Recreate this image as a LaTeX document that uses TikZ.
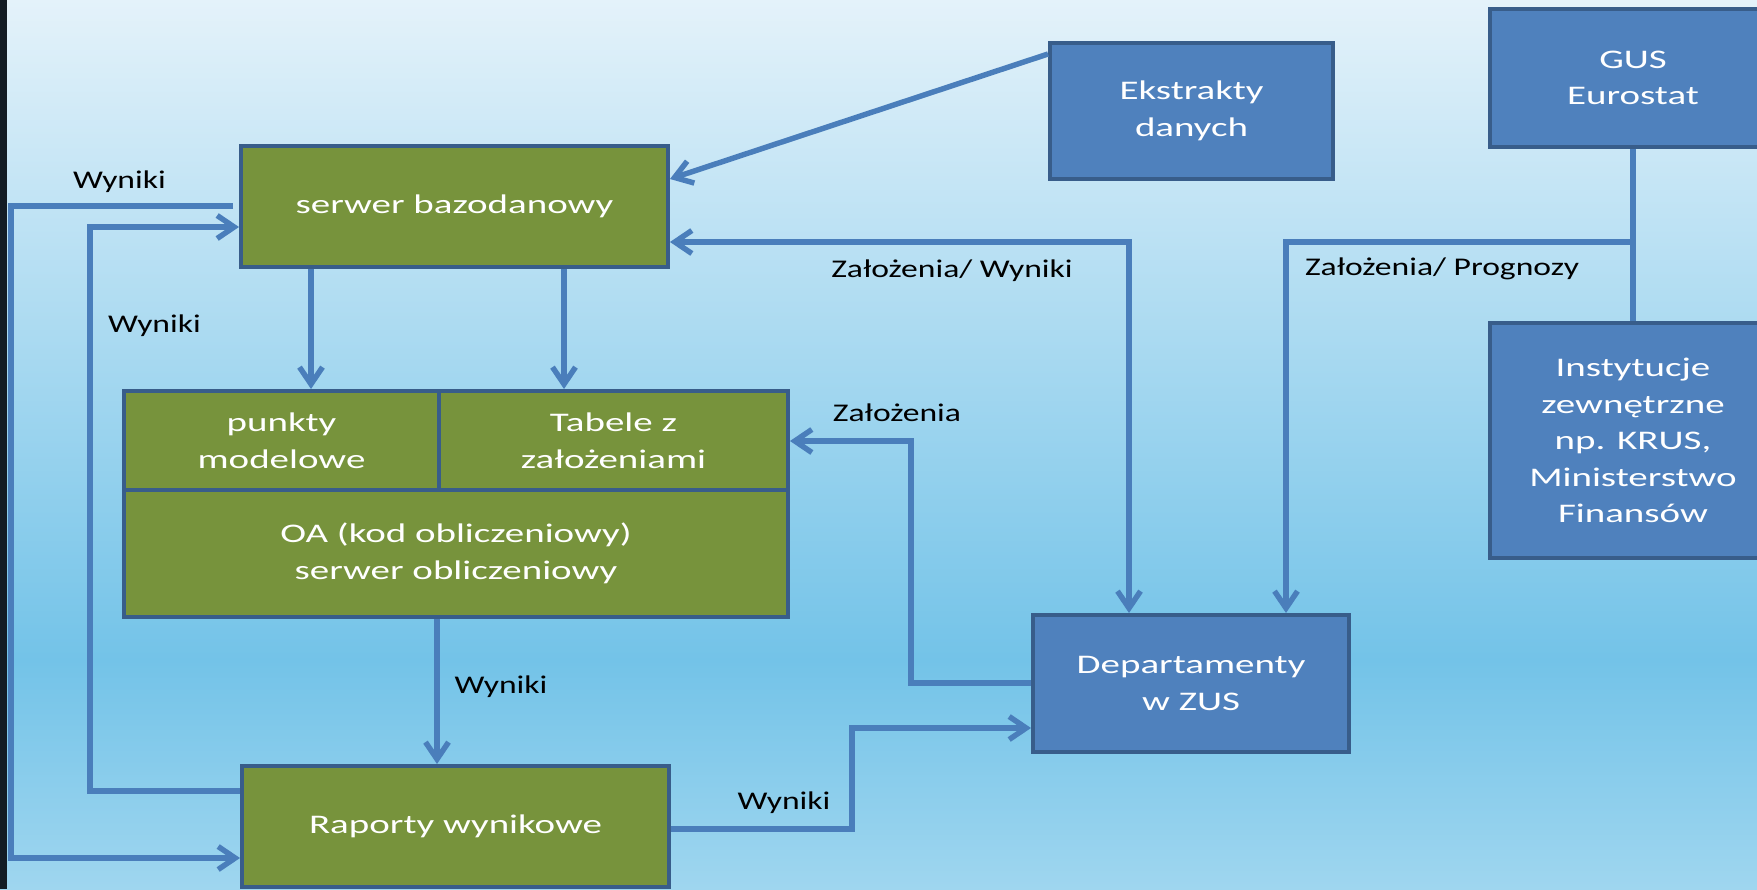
\documentclass[tikz,border=0pt]{standalone}
\usepackage{fontspec}
\usetikzlibrary{arrows.meta,calc}
\newfontfamily\boxf[FakeStretch=1.45]{Carlito}
\newfontfamily\labf[FakeStretch=1.32]{Carlito}
\definecolor{bgtop}{HTML}{E4F2FA}
\definecolor{bgmid}{HTML}{73C3E8}
\definecolor{bgbot}{HTML}{9FD6EF}
\definecolor{lineblue}{HTML}{4A7EBB}
\definecolor{boxblue}{HTML}{4F81BD}
\definecolor{boxborder}{HTML}{385D8A}
\definecolor{boxgreen}{HTML}{77933C}
\definecolor{darkband}{HTML}{131C24}
\tikzset{
  bx/.style={draw=boxborder, line width=2.3pt, inner sep=0pt, align=center, text=white,
    font=\boxf\fontsize{15.3}{20.8}\selectfont},
  bblue/.style={bx, fill=boxblue},
  bgreen/.style={bx, fill=boxgreen},
  conn/.style={draw=lineblue, line width=3.1pt},
  lab/.style={inner sep=0pt, text=black, font=\labf\fontsize{14.5}{16}\selectfont, anchor=base},
  >={Straight Barb[length=3.4mm,width=4.6mm]}
}
\begin{document}
\begin{tikzpicture}[x=0.02cm,y=-0.02cm]
\useasboundingbox (0,0) rectangle (1757,889);
\shade[top color=bgtop, bottom color=bgmid] (0,0) rectangle (1757,660);
\shade[top color=bgmid, bottom color=bgbot] (0,659.5) rectangle (1757,889);
\fill[darkband] (0,0) rectangle (7,889);

% boxes
\node[bgreen, minimum width=8.54cm, minimum height=2.42cm] (serwer) at (454.5,206.5) {serwer bazodanowy};
\node[bblue, minimum width=5.66cm, minimum height=2.72cm] (ekstr) at (1191.5,111) {Ekstrakty\\danych};
\node[bblue, minimum width=5.72cm, minimum height=2.76cm] (gus) at (1633,78) {GUS\\Eurostat};
\node[bblue, minimum width=5.72cm, minimum height=4.70cm] (inst) at (1633,440.5) {Instytucje\\zewnętrzne\\np. KRUS,\\Ministerstwo\\Finansów};
\node[bgreen, minimum width=6.30cm, minimum height=1.98cm] (punkty) at (281.5,440.5) {punkty\\modelowe};
\node[bgreen, minimum width=6.98cm, minimum height=1.98cm] (tabele) at (613.5,440.5) {Tabele z\\założeniami};
\node[bgreen, minimum width=13.28cm, minimum height=2.54cm] (oa) at (456,553.5) {OA (kod obliczeniowy)\\serwer obliczeniowy};
\node[bblue, minimum width=6.32cm, minimum height=2.74cm] (dep) at (1191,683.5) {Departamenty\\w ZUS};
\node[bgreen, minimum width=8.54cm, minimum height=2.42cm] (rap) at (455.5,826.5) {Raporty wynikowe};

% connectors
\draw[conn,->] ($(ekstr.north west)+(0,13)$) -- (serwer.east |- 0,179);
\draw[conn,<->] (dep.north -| 1129,0) -- (1129,242) -- (serwer.east |- 0,242);
\draw[conn] (gus.south) -- (inst.north);
\coordinate (branch) at (1633,242);
\draw[conn,->] (branch) -- (1286,242) -- (dep.north -| 1286,0);
\draw[conn,->] (serwer.south -| 311,0) -- (punkty.north -| 311,0);
\draw[conn,->] (serwer.south -| 564,0) -- (tabele.north -| 564,0);
\draw[conn,->] (dep.west |- 0,683) -- (911,683) -- (911,441) -- (tabele.east |- 0,441);
\draw[conn,->] (oa.south -| 437,0) -- (rap.north -| 437,0);
\draw[conn,->] (rap.east |- 0,829) -- (852,829) -- (852,728) -- (dep.west |- 0,728);
\draw[conn,->] (rap.west |- 0,791) -- (90,791) -- (90,227) -- (serwer.west |- 0,227);
\coordinate (s9) at (233,206);
\draw[conn,->] (s9) -- (11,206) -- (11,858) -- (rap.west |- 0,858);

% labels
\node[lab] (l1) at (119.5,188) {Wyniki};
\node[lab] (l2) at (154.5,332) {Wyniki};
\node[lab] (l3) at (952,277) {Założenia/ Wyniki};
\node[lab] (l4) at (1442,275) {Założenia/ Prognozy};
\node[lab] (l5) at (897,421) {Założenia};
\node[lab] (l6) at (501,693) {Wyniki};
\node[lab] (l7) at (784,809) {Wyniki};
\end{tikzpicture}
\end{document}
